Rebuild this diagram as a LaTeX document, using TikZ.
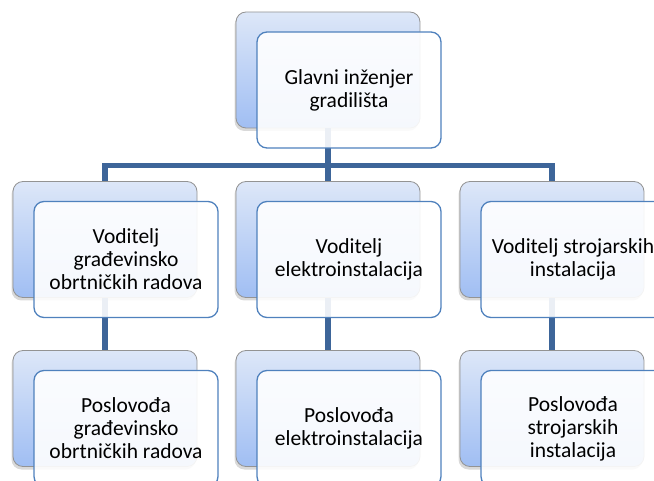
\documentclass[tikz,border=0pt]{standalone}
\usepackage{fontspec}
\setmainfont{Carlito}
\usetikzlibrary{shadows}

\definecolor{vezaplava}{HTML}{3D6599}
\definecolor{rubplava}{HTML}{4F81BD}
\definecolor{gornja}{HTML}{DDE7F8}
\definecolor{donja}{HTML}{A0BEF3}

\tikzset{
	zadnja/.style={rounded corners=10pt, minimum width=184pt, minimum height=116pt,
		inner sep=0pt, draw=gray!85, line width=0.8pt, top color=gornja, bottom color=donja,
		drop shadow={opacity=0.3, shadow xshift=-1.5pt, shadow yshift=-3pt}},
	prednja/.style={rounded corners=10pt, minimum width=184pt, minimum height=116pt,
		inner sep=0pt, draw=rubplava, line width=1.3pt, fill=white, fill opacity=0.9,
		text opacity=1, align=center, font=\fontsize{21.5}{23}\selectfont},
	veza/.style={draw=vezaplava, line width=5.5pt, line join=miter}
}

\begin{document}
\begin{tikzpicture}[x=1pt,y=-1pt]
	\useasboundingbox (0,0) rectangle (654,481);
	\clip (0,0) rectangle (654,481);

	% zadnji pravokutnici
	\node[zadnja] (glavniZ) at (328,70) {};
	\node[zadnja] (gradZ) at (105,239.5) {};
	\node[zadnja] (elektroZ) at (328,239.5) {};
	\node[zadnja] (strojZ) at (552,239.5) {};
	\node[zadnja] (gradPZ) at (105,408.5) {};
	\node[zadnja] (elektroPZ) at (328,408.5) {};
	\node[zadnja] (strojPZ) at (552,408.5) {};

	% veze
	\coordinate (sab) at (0,165.5);
	\draw[veza] (glavniZ) -- (glavniZ |- sab);
	\draw[veza] (gradZ) -- (gradZ |- sab) -- (strojZ |- sab) -- (strojZ);
	\draw[veza] (elektroZ |- sab) -- (elektroZ);
	\draw[veza] (gradZ) -- (gradPZ);
	\draw[veza] (elektroZ) -- (elektroPZ);
	\draw[veza] (strojZ) -- (strojPZ);

	% prednji pravokutnici
	\node[prednja] (glavni) at (349,90) {Glavni inženjer\\gradilišta};
	\node[prednja] (grad) at (126,259.5) {Voditelj\\građevinsko\\obrtničkih radova};
	\node[prednja] (elektro) at (349,259.5) {Voditelj\\elektroinstalacija};
	\node[prednja] (stroj) at (573,259.5) {Voditelj strojarskih\\instalacija};
	\node[prednja] (gradP) at (126,428.5) {Poslovođa\\građevinsko\\obrtničkih radova};
	\node[prednja] (elektroP) at (349,428.5) {Poslovođa\\elektroinstalacija};
	\node[prednja] (strojP) at (573,428.5) {Poslovođa\\strojarskih\\instalacija};
\end{tikzpicture}
\end{document}
